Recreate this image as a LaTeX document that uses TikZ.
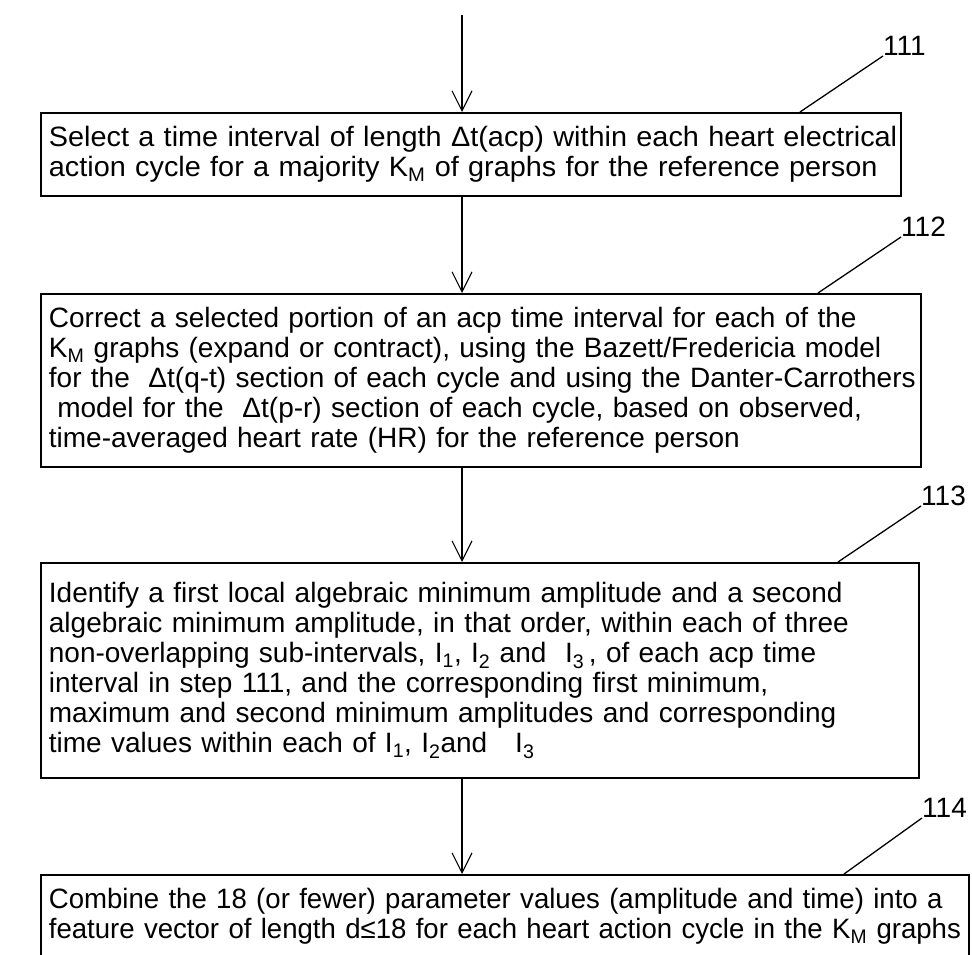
\documentclass[tikz,border=0pt]{standalone}
\usepackage{fontspec}
\setmainfont{Liberation Sans}
\usetikzlibrary{arrows.meta}
\begin{document}
\begin{tikzpicture}[x=1pt,y=-1pt,
  stepbox/.style={draw, line width=1.8pt, anchor=north west, inner xsep=8pt, inner ysep=0pt,
    align=left, font=\fontsize{28}{30}\selectfont},
  flow/.style={line width=1.1pt, -{Straight Barb[length=20pt,width=20pt,line width=1.1pt]}},
  leader/.style={line width=1.3pt},
  lab/.style={font=\fontsize{28}{30}\selectfont, inner sep=0pt, anchor=south west}]
\path[fill=white, use as bounding box] (0,0) rectangle (972,955);

\node[stepbox, text width=844pt, minimum height=83pt,
      font=\fontsize{28}{30}\selectfont\addfontfeature{FakeStretch=1.03}] (b1) at (40,112)
  {\mbox{Select a time interval of length Δt(acp) within each heart electrical}\\
   \mbox{action cycle for a majority K\textsubscript{M} of graphs for the reference person}};

\node[stepbox, text width=864pt, minimum height=173pt] (b2) at (40,293)
  {\mbox{Correct a selected portion of an acp time interval for each of the}\\
   \mbox{K\textsubscript{M} graphs (expand or contract), using the Bazett/Fredericia model}\\
   \mbox{for the \ Δt(q-t) section of each cycle and using the Danter-Carrothers}\\
   \mbox{\hspace*{0.3em}model for the \ Δt(p-r) section of each cycle, based on observed,}\\
   \mbox{time-averaged heart rate (HR) for the reference person}};

\node[stepbox, text width=862pt, minimum height=215pt] (b3) at (40,562)
  {\mbox{Identify a first local algebraic minimum amplitude and a second}\\
   \mbox{algebraic minimum amplitude, in that order, within each of three}\\
   \mbox{non-overlapping sub-intervals, I\textsubscript{1}, I\textsubscript{2} and \ I\textsubscript{3}\,, of each acp time}\\
   \mbox{interval in step 111, and the corresponding first minimum,}\\
   \mbox{maximum and second minimum amplitudes and corresponding}\\
   \mbox{time values within each of I\textsubscript{1}, I\textsubscript{2}and \ \ I\textsubscript{3}}};

\node[stepbox, text width=912pt, minimum height=83pt,
      font=\fontsize{28}{30}\selectfont\addfontfeature{FakeStretch=0.985}] (b4) at (40,874)
  {\mbox{Combine the 18 (or fewer) parameter values (amplitude and time) into a}\\
   \mbox{feature vector of length d≤18 for each heart action cycle in the K\textsubscript{M} graphs}};

\coordinate (top) at (462,15);
\draw[flow] (top) -- (top |- b1.north);
\draw[flow] (top |- b1.south) -- (top |- b2.north);
\draw[flow] (top |- b2.south) -- (top |- b3.north);
\draw[flow] (top |- b3.south) -- (top |- b4.north);

\node[lab] (n111) at (883,56) {111};
\node[lab] (n112) at (901,237) {112};
\node[lab] (n113) at (921,506) {113};
\node[lab] (n114) at (922,818) {114};
\draw[leader] ([xshift=760pt]b1.north west) -- (n111.south west);
\draw[leader] ([xshift=778pt]b2.north west) -- (n112.south west);
\draw[leader] ([xshift=798pt]b3.north west) -- (n113.south west);
\draw[leader] ([xshift=804pt]b4.north west) -- (n114.south west);
\end{tikzpicture}
\end{document}
